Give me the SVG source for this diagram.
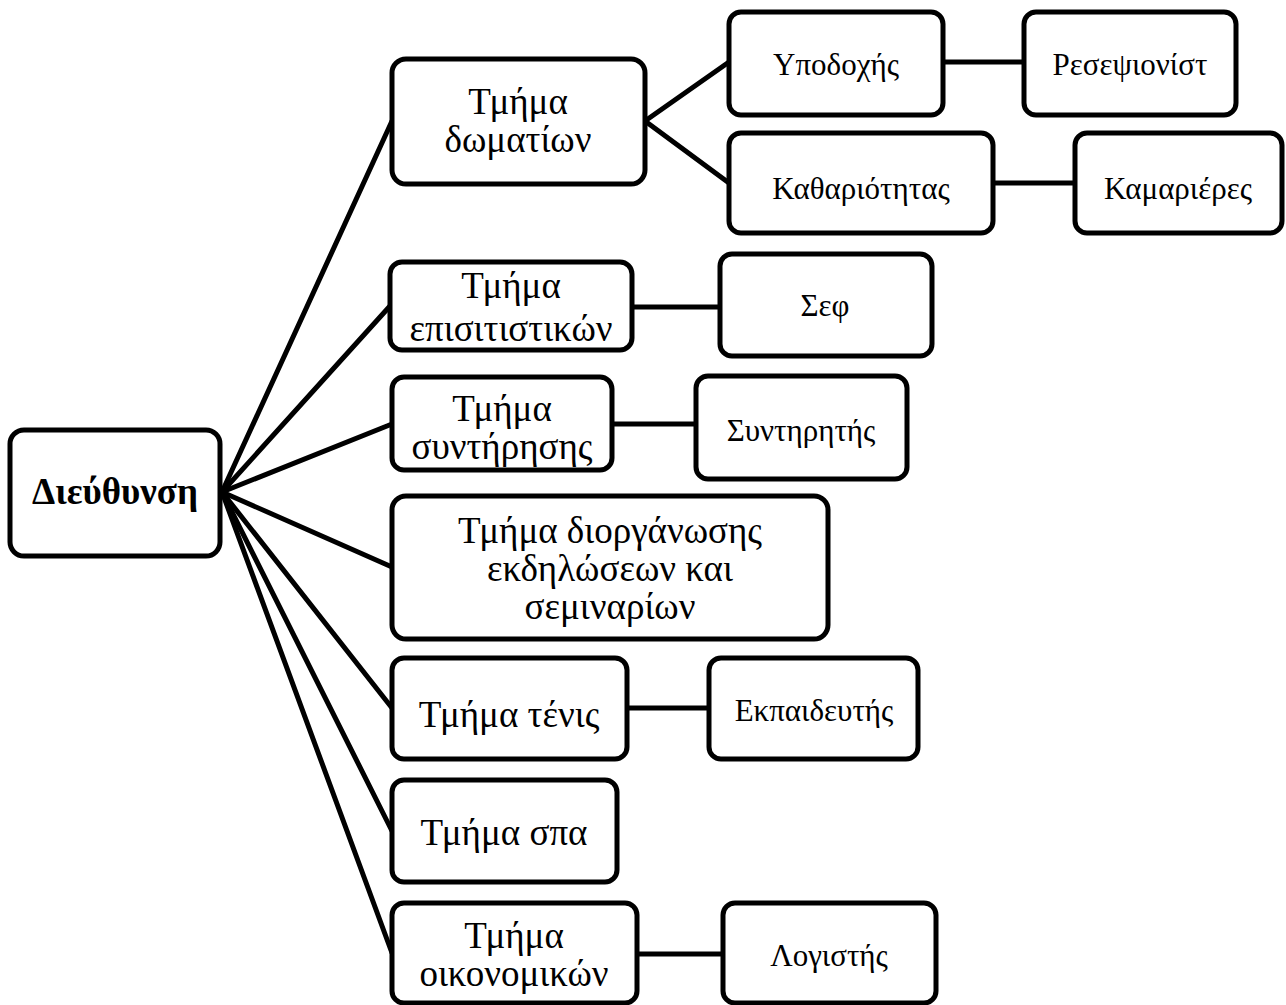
<svg xmlns="http://www.w3.org/2000/svg" width="1286" height="1005" viewBox="0 0 1286 1005">
<style>
.box{fill:#fff;stroke:#000;stroke-width:5}
.c{stroke:#000;stroke-width:5;fill:none;stroke-linecap:round}
text{font-family:"Liberation Serif","Times New Roman",serif;fill:#000;text-anchor:middle}
.l1{font-size:37px}
.l2{font-size:31px}
.root{font-size:37px;font-weight:bold}
</style>
<rect width="1286" height="1005" fill="#fff"/>
<g id="connectors">
<line class="c" x1="222" y1="492" x2="392" y2="121"/>
<line class="c" x1="222" y1="492" x2="390" y2="306"/>
<line class="c" x1="222" y1="492" x2="392" y2="424"/>
<line class="c" x1="222" y1="492" x2="392" y2="567"/>
<line class="c" x1="222" y1="492" x2="392" y2="708"/>
<line class="c" x1="222" y1="492" x2="392" y2="831"/>
<line class="c" x1="222" y1="492" x2="392" y2="953"/>
<line class="c" x1="645" y1="121" x2="729" y2="62"/>
<line class="c" x1="645" y1="121" x2="729" y2="183"/>
<line class="c" x1="943" y1="62" x2="1024" y2="62"/>
<line class="c" x1="993" y1="183" x2="1075" y2="183"/>
<line class="c" x1="632" y1="307" x2="720" y2="307"/>
<line class="c" x1="612" y1="424" x2="696" y2="424"/>
<line class="c" x1="627" y1="708" x2="709" y2="708"/>
<line class="c" x1="637" y1="954" x2="723" y2="954"/>
</g>
<g id="root"><rect class="box" x="10" y="430" width="210" height="126" rx="14"/><text class="root" x="115" y="504">Διεύθυνση</text></g>
<g id="rooms"><rect class="box" x="392" y="59" width="253" height="125" rx="14"/><text class="l1" x="518" y="114">Τμήμα</text><text class="l1" x="518" y="152">δωματίων</text></g>
<g id="reception"><rect class="box" x="729" y="12" width="214" height="103" rx="12"/><text class="l2" x="836" y="75">Υποδοχής</text></g>
<g id="receptionist"><rect class="box" x="1024" y="12" width="212" height="103" rx="12"/><text class="l2" x="1130" y="75">Ρεσεψιονίστ</text></g>
<g id="cleaning"><rect class="box" x="729" y="133" width="264" height="100" rx="12"/><text class="l2" x="861" y="199">Καθαριότητας</text></g>
<g id="maids"><rect class="box" x="1075" y="133" width="207" height="100" rx="12"/><text class="l2" x="1178" y="199">Καμαριέρες</text></g>
<g id="catering"><rect class="box" x="390" y="262" width="242" height="88" rx="12"/><text class="l1" x="511" y="298">Τμήμα</text><text class="l1" x="511" y="341">επισιτιστικών</text></g>
<g id="chef"><rect class="box" x="720" y="254" width="212" height="102" rx="12"/><text class="l2" x="825" y="316">Σεφ</text></g>
<g id="maintenance"><rect class="box" x="392" y="377" width="220" height="93" rx="12"/><text class="l1" x="502" y="421">Τμήμα</text><text class="l1" x="502" y="459">συντήρησης</text></g>
<g id="technician"><rect class="box" x="696" y="376" width="211" height="103" rx="12"/><text class="l2" x="801" y="441">Συντηρητής</text></g>
<g id="events"><rect class="box" x="392" y="496" width="436" height="143" rx="14"/><text class="l1" x="610" y="543">Τμήμα διοργάνωσης</text><text class="l1" x="610" y="581">εκδηλώσεων και</text><text class="l1" x="610" y="619">σεμιναρίων</text></g>
<g id="tennis"><rect class="box" x="392" y="658" width="235" height="101" rx="12"/><text class="l1" x="509" y="727">Τμήμα τένις</text></g>
<g id="trainer"><rect class="box" x="709" y="658" width="209" height="101" rx="12"/><text class="l2" x="814" y="721">Εκπαιδευτής</text></g>
<g id="spa"><rect class="box" x="392" y="780" width="225" height="102" rx="12"/><text class="l1" x="504" y="845">Τμήμα σπα</text></g>
<g id="finance"><rect class="box" x="392" y="903" width="245" height="100" rx="12"/><text class="l1" x="514" y="948">Τμήμα</text><text class="l1" x="514" y="986">οικονομικών</text></g>
<g id="accountant"><rect class="box" x="723" y="903" width="213" height="100" rx="12"/><text class="l2" x="829" y="966">Λογιστής</text></g>
</svg>
